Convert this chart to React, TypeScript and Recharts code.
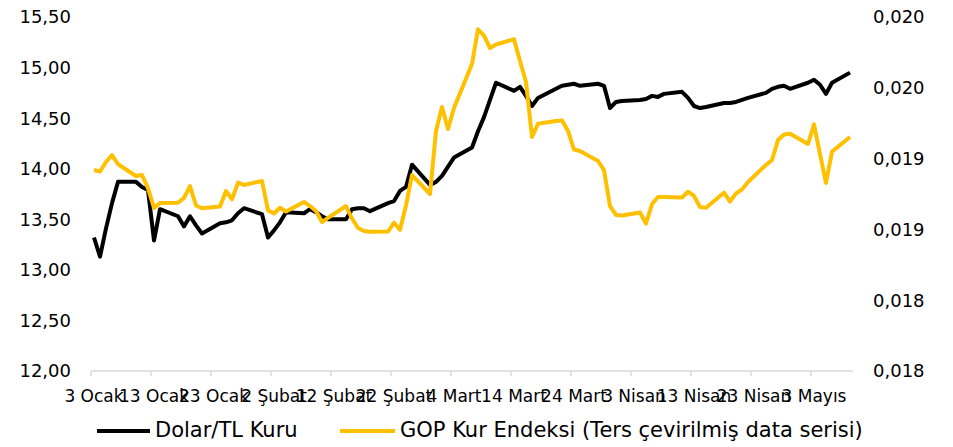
import React from 'react';
import { LineChart, Line, XAxis, YAxis, Legend } from 'recharts';

const dates = [
  '2022-01-03','2022-01-04','2022-01-05','2022-01-06','2022-01-07','2022-01-10','2022-01-11','2022-01-12','2022-01-13','2022-01-14',
  '2022-01-17','2022-01-18','2022-01-19','2022-01-20','2022-01-21','2022-01-24','2022-01-25','2022-01-26','2022-01-27','2022-01-28','2022-01-31',
  '2022-02-01','2022-02-02','2022-02-03','2022-02-04','2022-02-07','2022-02-08','2022-02-09','2022-02-10','2022-02-11',
  '2022-02-14','2022-02-15','2022-02-16','2022-02-17','2022-02-18','2022-02-21','2022-02-22','2022-02-23','2022-02-24','2022-02-25','2022-02-28',
  '2022-03-01','2022-03-02','2022-03-03','2022-03-04','2022-03-07','2022-03-08','2022-03-09','2022-03-10','2022-03-11',
  '2022-03-14','2022-03-15','2022-03-16','2022-03-17','2022-03-18','2022-03-21','2022-03-22','2022-03-23','2022-03-24','2022-03-25',
  '2022-03-28','2022-03-29','2022-03-30','2022-03-31','2022-04-01','2022-04-04','2022-04-05','2022-04-06','2022-04-07','2022-04-08',
  '2022-04-11','2022-04-12','2022-04-13','2022-04-14','2022-04-15','2022-04-18','2022-04-19','2022-04-20','2022-04-21','2022-04-22',
  '2022-04-25','2022-04-26','2022-04-27','2022-04-28','2022-04-29','2022-05-02','2022-05-03','2022-05-04','2022-05-05','2022-05-06','2022-05-09',
];

const dolarTL = [
  13.32, 13.13, 13.41, 13.66, 13.87, 13.87, 13.82, 13.79, 13.29, 13.60,
  13.53, 13.43, 13.53, 13.44, 13.36, 13.46, 13.47, 13.49, 13.56, 13.61, 13.55,
  13.32, 13.39, 13.47, 13.57, 13.56, 13.60, 13.57, 13.53, 13.50,
  13.50, 13.60, 13.61, 13.61, 13.58, 13.66, 13.68, 13.78, 13.82, 14.04, 13.84,
  13.87, 13.93, 14.02, 14.11, 14.21, 14.37, 14.51, 14.68, 14.85,
  14.77, 14.81, 14.72, 14.62, 14.70, 14.79, 14.82, 14.83, 14.84, 14.82,
  14.84, 14.82, 14.60, 14.66, 14.67, 14.68, 14.69, 14.72, 14.71, 14.74,
  14.76, 14.70, 14.62, 14.60, 14.61, 14.65, 14.65, 14.66, 14.68, 14.70,
  14.75, 14.79, 14.81, 14.82, 14.79, 14.85, 14.88, 14.83, 14.74, 14.85, 14.95,
];

const gopIndex = [
  0.019419, 0.019409, 0.019476, 0.019525, 0.019460, 0.019377, 0.019384, 0.019292, 0.019151, 0.019186,
  0.019189, 0.019222, 0.019306, 0.019169, 0.019149, 0.019162, 0.019271, 0.019213, 0.019330, 0.019314, 0.019342,
  0.019135, 0.019112, 0.019153, 0.019126, 0.019194, 0.019165, 0.019130, 0.019052, 0.019081,
  0.019165, 0.019077, 0.019010, 0.018989, 0.018984, 0.018985, 0.019047, 0.018997, 0.019169, 0.019384, 0.019250,
  0.019695, 0.019864, 0.019709, 0.019857, 0.020168, 0.020413, 0.020369, 0.020281, 0.020306,
  0.020343, 0.020189, 0.020041, 0.019653, 0.019746, 0.019766, 0.019770, 0.019695, 0.019564, 0.019554,
  0.019483, 0.019419, 0.019165, 0.019102, 0.019098, 0.019119, 0.019042, 0.019179, 0.019229, 0.019229,
  0.019225, 0.019266, 0.019236, 0.019158, 0.019153, 0.019259, 0.019196, 0.019254, 0.019282, 0.019335,
  0.019455, 0.019490, 0.019631, 0.019670, 0.019676, 0.019603, 0.019742, 0.019532, 0.019328, 0.019549, 0.019653,
];

const leftTicks = [12, 12.5, 13, 13.5, 14, 14.5, 15, 15.5];
const rightTicks = [0.018, 0.0185, 0.019, 0.0195, 0.02, 0.0205];
const rightTickLabels = ['0,018', '0,018', '0,019', '0,019', '0,020', '0,020'];
const xTickLabels = [
  '3 Ocak', '13 Ocak', '23 Ocak', '2 Şubat', '12 Şubat', '22 Şubat', '4 Mart',
  '14 Mart', '24 Mart', '3 Nisan', '13 Nisan', '23 Nisan', '3 Mayıs',
];
const seriesNames = ['Dolar/TL Kuru', 'GOP Kur Endeksi (Ters çevirilmiş data serisi)'];
const seriesColors = ['#000000', '#FFC000'];

const DAY = 86400000;
const xStart = Date.UTC(2022, 0, 3);
const xEnd = Date.UTC(2022, 4, 10);
const xTicks = xTickLabels.map((_, i) => xStart + i * 10 * DAY);

const data = dates.map((d, i) => ({
  t: Date.parse(d + 'T12:00:00Z'),
  dolar: dolarTL[i],
  gop: gopIndex[i],
}));

const FONT = '"DejaVu Sans", Verdana, sans-serif';

const renderLegend = () => (
  <div style={{ position: 'relative', width: 945, height: 40, fontFamily: FONT }}>
    <div style={{ position: 'absolute', left: 89, top: 22, width: 53, height: 4, background: seriesColors[0] }} />
    <span style={{ position: 'absolute', left: 147, top: 13, fontSize: 21, lineHeight: '21px', color: '#000', whiteSpace: 'nowrap' }}>
      {seriesNames[0]}
    </span>
    <div style={{ position: 'absolute', left: 332, top: 22, width: 55, height: 4, background: seriesColors[1] }} />
    <span style={{ position: 'absolute', left: 392, top: 13, fontSize: 21, lineHeight: '21px', color: '#000', whiteSpace: 'nowrap' }}>
      {seriesNames[1]}
    </span>
  </div>
);

export default function App() {
  return (
    <div style={{ width: 945, height: 439, fontFamily: FONT }}>
      <LineChart width={945} height={439} data={data} margin={{ top: 9, right: 0, left: 0, bottom: 0 }}>
        <XAxis
          dataKey="t"
          type="number"
          scale="linear"
          domain={[xStart, xEnd]}
          ticks={xTicks}
          interval={0}
          tickFormatter={(v: number, i: number) => xTickLabels[i]}
          tick={{ fill: '#000', fontSize: 17, dx: 3 }}
          axisLine={{ stroke: '#D9D9D9', strokeWidth: 1.5 }}
          tickLine={{ stroke: '#D9D9D9', strokeWidth: 1.5 }}
          tickSize={5}
          tickMargin={14}
          height={36}
          allowDataOverflow
        />
        <YAxis
          yAxisId="left"
          orientation="left"
          domain={[12, 15.5]}
          ticks={leftTicks}
          interval={0}
          tickFormatter={(v: number) => v.toFixed(2).replace('.', ',')}
          tick={{ fill: '#000', fontSize: 18 }}
          axisLine={false}
          tickLine={false}
          tickSize={0}
          tickMargin={20}
          width={83}
          allowDataOverflow
        />
        <YAxis
          yAxisId="right"
          orientation="right"
          domain={[0.018, 0.0205]}
          ticks={rightTicks}
          interval={0}
          tickFormatter={(v: number, i: number) => rightTickLabels[i]}
          tick={{ fill: '#000', fontSize: 18 }}
          axisLine={false}
          tickLine={false}
          tickSize={0}
          tickMargin={20}
          width={100}
          allowDataOverflow
        />
        <Legend verticalAlign="bottom" content={renderLegend} wrapperStyle={{ left: 0, width: 945, height: 40 }} />
        <Line
          yAxisId="left"
          type="linear"
          dataKey="dolar"
          name={seriesNames[0]}
          stroke={seriesColors[0]}
          strokeWidth={4}
          dot={false}
          activeDot={false}
          isAnimationActive={false}
          strokeLinejoin="round"
        />
        <Line
          yAxisId="right"
          type="linear"
          dataKey="gop"
          name={seriesNames[1]}
          stroke={seriesColors[1]}
          strokeWidth={4}
          dot={false}
          activeDot={false}
          isAnimationActive={false}
          strokeLinejoin="round"
        />
      </LineChart>
    </div>
  );
}
